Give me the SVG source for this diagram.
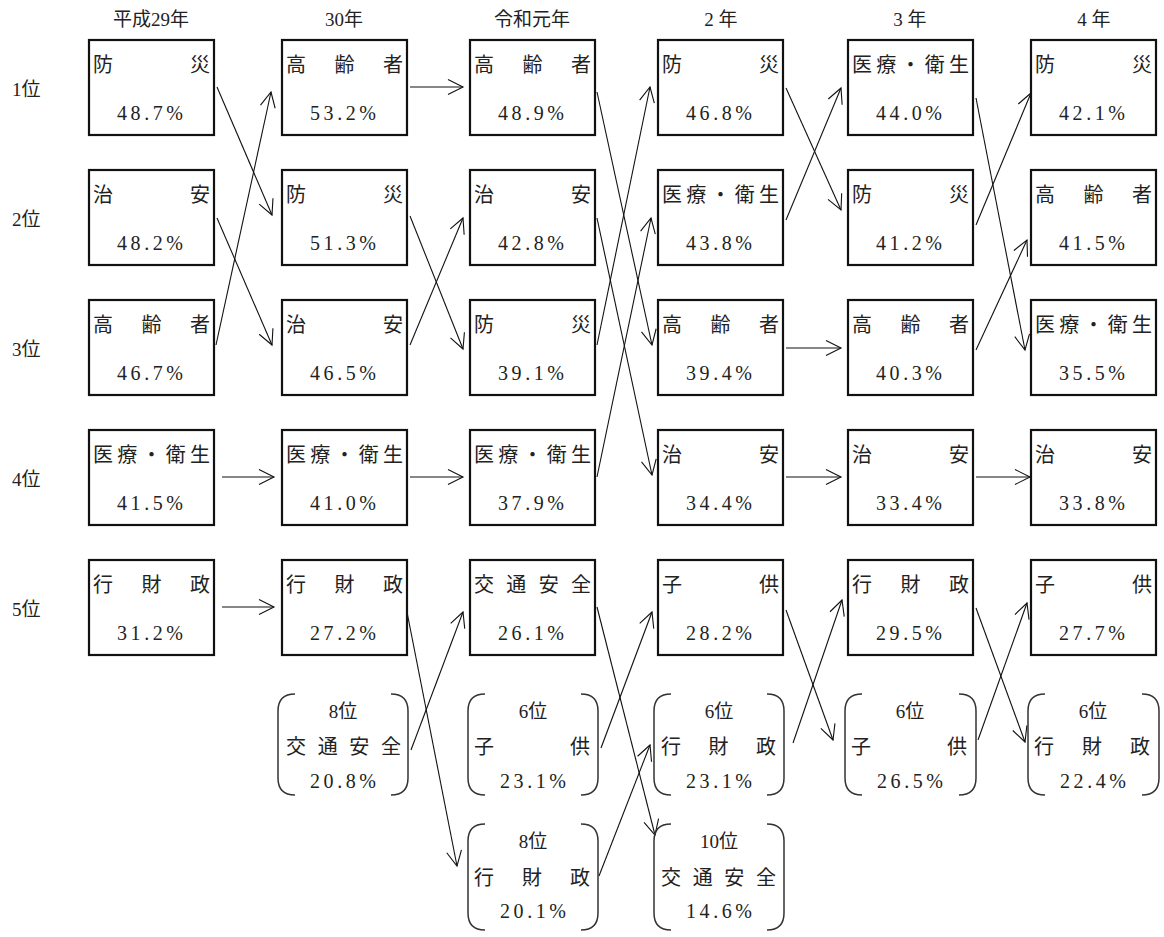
<svg xmlns="http://www.w3.org/2000/svg" width="1164" height="937" viewBox="0 0 1164 937">
<defs>
<style>
text{font-family:"Liberation Serif","Noto Sans CJK JP",serif;fill:#222;}
.hd{font-size:19px;text-anchor:middle;}
.rk{font-size:19px;}
.lb{font-size:20px;}
.pc{font-size:20px;}
.bx{fill:#fff;stroke:#111;stroke-width:2.2;}
.br{fill:none;stroke:#333;stroke-width:1.5;}
.cn line{stroke:#111;stroke-width:1.1;marker-end:url(#ah);}
</style>
<marker id="ah" markerUnits="userSpaceOnUse" markerWidth="20" markerHeight="20" viewBox="-16 -10 18 20" refX="0" refY="0" orient="auto">
<path d="M-15,-7.5 L0,0 L-15,7.5" fill="none" stroke="#111" stroke-width="1.1"/>
</marker>
</defs>
<rect width="1164" height="937" fill="#fff"/>

<g id="headers">
<text class="hd" x="151" y="26">平成29年</text>
<text class="hd" x="344" y="26">30年</text>
<text class="hd" x="532" y="26">令和元年</text>
<text class="hd" x="721" y="26">2 年</text>
<text class="hd" x="910" y="26">3 年</text>
<text class="hd" x="1094" y="26">4 年</text>
</g>
<g id="ranks">
<text class="rk" x="12" y="96">1位</text>
<text class="rk" x="12" y="226">2位</text>
<text class="rk" x="12" y="356">3位</text>
<text class="rk" x="12" y="486">4位</text>
<text class="rk" x="12" y="616">5位</text>
</g>

<g id="connectors" class="cn">
<line x1="217" y1="87" x2="272" y2="215"/>
<line x1="217" y1="218" x2="272" y2="345"/>
<line x1="216" y1="345" x2="271" y2="92"/>
<line x1="222" y1="477" x2="274" y2="477"/>
<line x1="222" y1="607" x2="274" y2="607"/>

<line x1="410" y1="87" x2="463" y2="87"/>
<line x1="410" y1="216" x2="463" y2="349"/>
<line x1="410" y1="345" x2="463" y2="218"/>
<line x1="410" y1="477" x2="463" y2="477"/>
<line x1="406" y1="607" x2="457" y2="866"/>
<line x1="411" y1="750" x2="463" y2="612"/>

<line x1="597" y1="92" x2="652" y2="345"/>
<line x1="597" y1="218" x2="652" y2="475"/>
<line x1="597" y1="345" x2="650" y2="87"/>
<line x1="597" y1="477" x2="651" y2="218"/>
<line x1="597" y1="607" x2="655" y2="835"/>
<line x1="601" y1="748" x2="652" y2="612"/>
<line x1="599" y1="876" x2="650" y2="745"/>

<line x1="786" y1="88" x2="841" y2="210"/>
<line x1="786" y1="220" x2="841" y2="88"/>
<line x1="786" y1="348" x2="841" y2="348"/>
<line x1="786" y1="477" x2="841" y2="477"/>
<line x1="786" y1="610" x2="833" y2="740"/>
<line x1="793" y1="743" x2="842" y2="600"/>

<line x1="976" y1="98" x2="1025" y2="350"/>
<line x1="976" y1="225" x2="1031" y2="93"/>
<line x1="976" y1="350" x2="1027" y2="240"/>
<line x1="976" y1="477" x2="1030" y2="477"/>
<line x1="976" y1="608" x2="1025" y2="742"/>
<line x1="978" y1="740" x2="1027" y2="603"/>
</g>

<!-- column 1 -->
<g id="c1r1"><rect class="bx" x="89" y="40" width="125" height="95"/><text class="lb" x="93" y="72" textLength="117" lengthAdjust="spacing">防災</text><text class="pc" x="117" y="120" textLength="66" lengthAdjust="spacing">48.7%</text></g>
<g id="c1r2"><rect class="bx" x="89" y="170" width="125" height="95"/><text class="lb" x="93" y="202" textLength="117" lengthAdjust="spacing">治安</text><text class="pc" x="117" y="250" textLength="66" lengthAdjust="spacing">48.2%</text></g>
<g id="c1r3"><rect class="bx" x="89" y="300" width="125" height="95"/><text class="lb" x="93" y="332" textLength="117" lengthAdjust="spacing">高齢者</text><text class="pc" x="117" y="380" textLength="66" lengthAdjust="spacing">46.7%</text></g>
<g id="c1r4"><rect class="bx" x="89" y="430" width="125" height="95"/><text class="lb" x="93" y="462" textLength="117" lengthAdjust="spacing">医療・衛生</text><text class="pc" x="117" y="510" textLength="66" lengthAdjust="spacing">41.5%</text></g>
<g id="c1r5"><rect class="bx" x="89" y="560" width="125" height="95"/><text class="lb" x="93" y="592" textLength="117" lengthAdjust="spacing">行財政</text><text class="pc" x="117" y="640" textLength="66" lengthAdjust="spacing">31.2%</text></g>

<!-- column 2 -->
<g id="c2r1"><rect class="bx" x="282" y="40" width="125" height="95"/><text class="lb" x="286" y="72" textLength="117" lengthAdjust="spacing">高齢者</text><text class="pc" x="310" y="120" textLength="66" lengthAdjust="spacing">53.2%</text></g>
<g id="c2r2"><rect class="bx" x="282" y="170" width="125" height="95"/><text class="lb" x="286" y="202" textLength="117" lengthAdjust="spacing">防災</text><text class="pc" x="310" y="250" textLength="66" lengthAdjust="spacing">51.3%</text></g>
<g id="c2r3"><rect class="bx" x="282" y="300" width="125" height="95"/><text class="lb" x="286" y="332" textLength="117" lengthAdjust="spacing">治安</text><text class="pc" x="310" y="380" textLength="66" lengthAdjust="spacing">46.5%</text></g>
<g id="c2r4"><rect class="bx" x="282" y="430" width="125" height="95"/><text class="lb" x="286" y="462" textLength="117" lengthAdjust="spacing">医療・衛生</text><text class="pc" x="310" y="510" textLength="66" lengthAdjust="spacing">41.0%</text></g>
<g id="c2r5"><rect class="bx" x="282" y="560" width="125" height="95"/><text class="lb" x="286" y="592" textLength="117" lengthAdjust="spacing">行財政</text><text class="pc" x="310" y="640" textLength="66" lengthAdjust="spacing">27.2%</text></g>
<g id="c2r6"><path class="br" d="M295,694 Q278,694 278,711 V778 Q278,795 295,795 M391,694 Q408,694 408,711 V778 Q408,795 391,795"/><text class="rk" x="343" y="718" text-anchor="middle">8位</text><text class="lb" x="286" y="754" textLength="115" lengthAdjust="spacing">交通安全</text><text class="pc" x="310" y="788" textLength="66" lengthAdjust="spacing">20.8%</text></g>

<!-- column 3 -->
<g id="c3r1"><rect class="bx" x="470" y="40" width="125" height="95"/><text class="lb" x="474" y="72" textLength="117" lengthAdjust="spacing">高齢者</text><text class="pc" x="498" y="120" textLength="66" lengthAdjust="spacing">48.9%</text></g>
<g id="c3r2"><rect class="bx" x="470" y="170" width="125" height="95"/><text class="lb" x="474" y="202" textLength="117" lengthAdjust="spacing">治安</text><text class="pc" x="498" y="250" textLength="66" lengthAdjust="spacing">42.8%</text></g>
<g id="c3r3"><rect class="bx" x="470" y="300" width="125" height="95"/><text class="lb" x="474" y="332" textLength="117" lengthAdjust="spacing">防災</text><text class="pc" x="498" y="380" textLength="66" lengthAdjust="spacing">39.1%</text></g>
<g id="c3r4"><rect class="bx" x="470" y="430" width="125" height="95"/><text class="lb" x="474" y="462" textLength="117" lengthAdjust="spacing">医療・衛生</text><text class="pc" x="498" y="510" textLength="66" lengthAdjust="spacing">37.9%</text></g>
<g id="c3r5"><rect class="bx" x="470" y="560" width="125" height="95"/><text class="lb" x="474" y="592" textLength="117" lengthAdjust="spacing">交通安全</text><text class="pc" x="498" y="640" textLength="66" lengthAdjust="spacing">26.1%</text></g>
<g id="c3r6"><path class="br" d="M485,694 Q468,694 468,711 V778 Q468,795 485,795 M581,694 Q598,694 598,711 V778 Q598,795 581,795"/><text class="rk" x="533" y="718" text-anchor="middle">6位</text><text class="lb" x="474" y="754" textLength="116" lengthAdjust="spacing">子供</text><text class="pc" x="500" y="788" textLength="66" lengthAdjust="spacing">23.1%</text></g>
<g id="c3r7"><path class="br" d="M485,824 Q468,824 468,841 V913 Q468,930 485,930 M581,824 Q598,824 598,841 V913 Q598,930 581,930"/><text class="rk" x="533" y="848" text-anchor="middle">8位</text><text class="lb" x="474" y="885" textLength="116" lengthAdjust="spacing">行財政</text><text class="pc" x="500" y="918" textLength="66" lengthAdjust="spacing">20.1%</text></g>

<!-- column 4 -->
<g id="c4r1"><rect class="bx" x="658" y="40" width="125" height="95"/><text class="lb" x="662" y="72" textLength="117" lengthAdjust="spacing">防災</text><text class="pc" x="686" y="120" textLength="66" lengthAdjust="spacing">46.8%</text></g>
<g id="c4r2"><rect class="bx" x="658" y="170" width="125" height="95"/><text class="lb" x="662" y="202" textLength="117" lengthAdjust="spacing">医療・衛生</text><text class="pc" x="686" y="250" textLength="66" lengthAdjust="spacing">43.8%</text></g>
<g id="c4r3"><rect class="bx" x="658" y="300" width="125" height="95"/><text class="lb" x="662" y="332" textLength="117" lengthAdjust="spacing">高齢者</text><text class="pc" x="686" y="380" textLength="66" lengthAdjust="spacing">39.4%</text></g>
<g id="c4r4"><rect class="bx" x="658" y="430" width="125" height="95"/><text class="lb" x="662" y="462" textLength="117" lengthAdjust="spacing">治安</text><text class="pc" x="686" y="510" textLength="66" lengthAdjust="spacing">34.4%</text></g>
<g id="c4r5"><rect class="bx" x="658" y="560" width="125" height="95"/><text class="lb" x="662" y="592" textLength="117" lengthAdjust="spacing">子供</text><text class="pc" x="686" y="640" textLength="66" lengthAdjust="spacing">28.2%</text></g>
<g id="c4r6"><path class="br" d="M671,694 Q654,694 654,711 V778 Q654,795 671,795 M767,694 Q784,694 784,711 V778 Q784,795 767,795"/><text class="rk" x="719" y="718" text-anchor="middle">6位</text><text class="lb" x="661" y="754" textLength="115" lengthAdjust="spacing">行財政</text><text class="pc" x="686" y="788" textLength="66" lengthAdjust="spacing">23.1%</text></g>
<g id="c4r7"><path class="br" d="M671,824 Q654,824 654,841 V913 Q654,930 671,930 M767,824 Q784,824 784,841 V913 Q784,930 767,930"/><text class="rk" x="719" y="848" text-anchor="middle">10位</text><text class="lb" x="661" y="885" textLength="115" lengthAdjust="spacing">交通安全</text><text class="pc" x="686" y="918" textLength="66" lengthAdjust="spacing">14.6%</text></g>

<!-- column 5 -->
<g id="c5r1"><rect class="bx" x="848" y="40" width="125" height="95"/><text class="lb" x="852" y="72" textLength="117" lengthAdjust="spacing">医療・衛生</text><text class="pc" x="876" y="120" textLength="66" lengthAdjust="spacing">44.0%</text></g>
<g id="c5r2"><rect class="bx" x="848" y="170" width="125" height="95"/><text class="lb" x="852" y="202" textLength="117" lengthAdjust="spacing">防災</text><text class="pc" x="876" y="250" textLength="66" lengthAdjust="spacing">41.2%</text></g>
<g id="c5r3"><rect class="bx" x="848" y="300" width="125" height="95"/><text class="lb" x="852" y="332" textLength="117" lengthAdjust="spacing">高齢者</text><text class="pc" x="876" y="380" textLength="66" lengthAdjust="spacing">40.3%</text></g>
<g id="c5r4"><rect class="bx" x="848" y="430" width="125" height="95"/><text class="lb" x="852" y="462" textLength="117" lengthAdjust="spacing">治安</text><text class="pc" x="876" y="510" textLength="66" lengthAdjust="spacing">33.4%</text></g>
<g id="c5r5"><rect class="bx" x="848" y="560" width="125" height="95"/><text class="lb" x="852" y="592" textLength="117" lengthAdjust="spacing">行財政</text><text class="pc" x="876" y="640" textLength="66" lengthAdjust="spacing">29.5%</text></g>
<g id="c5r6"><path class="br" d="M862,694 Q845,694 845,711 V778 Q845,795 862,795 M959,694 Q976,694 976,711 V778 Q976,795 959,795"/><text class="rk" x="910" y="718" text-anchor="middle">6位</text><text class="lb" x="851" y="754" textLength="116" lengthAdjust="spacing">子供</text><text class="pc" x="877" y="788" textLength="66" lengthAdjust="spacing">26.5%</text></g>

<!-- column 6 -->
<g id="c6r1"><rect class="bx" x="1031" y="40" width="125" height="95"/><text class="lb" x="1035" y="72" textLength="117" lengthAdjust="spacing">防災</text><text class="pc" x="1059" y="120" textLength="66" lengthAdjust="spacing">42.1%</text></g>
<g id="c6r2"><rect class="bx" x="1031" y="170" width="125" height="95"/><text class="lb" x="1035" y="202" textLength="117" lengthAdjust="spacing">高齢者</text><text class="pc" x="1059" y="250" textLength="66" lengthAdjust="spacing">41.5%</text></g>
<g id="c6r3"><rect class="bx" x="1031" y="300" width="125" height="95"/><text class="lb" x="1035" y="332" textLength="117" lengthAdjust="spacing">医療・衛生</text><text class="pc" x="1059" y="380" textLength="66" lengthAdjust="spacing">35.5%</text></g>
<g id="c6r4"><rect class="bx" x="1031" y="430" width="125" height="95"/><text class="lb" x="1035" y="462" textLength="117" lengthAdjust="spacing">治安</text><text class="pc" x="1059" y="510" textLength="66" lengthAdjust="spacing">33.8%</text></g>
<g id="c6r5"><rect class="bx" x="1031" y="560" width="125" height="95"/><text class="lb" x="1035" y="592" textLength="117" lengthAdjust="spacing">子供</text><text class="pc" x="1059" y="640" textLength="66" lengthAdjust="spacing">27.7%</text></g>
<g id="c6r6"><path class="br" d="M1045,694 Q1028,694 1028,711 V778 Q1028,795 1045,795 M1142,694 Q1159,694 1159,711 V778 Q1159,795 1142,795"/><text class="rk" x="1093" y="718" text-anchor="middle">6位</text><text class="lb" x="1034" y="754" textLength="116" lengthAdjust="spacing">行財政</text><text class="pc" x="1060" y="788" textLength="66" lengthAdjust="spacing">22.4%</text></g>
</svg>
